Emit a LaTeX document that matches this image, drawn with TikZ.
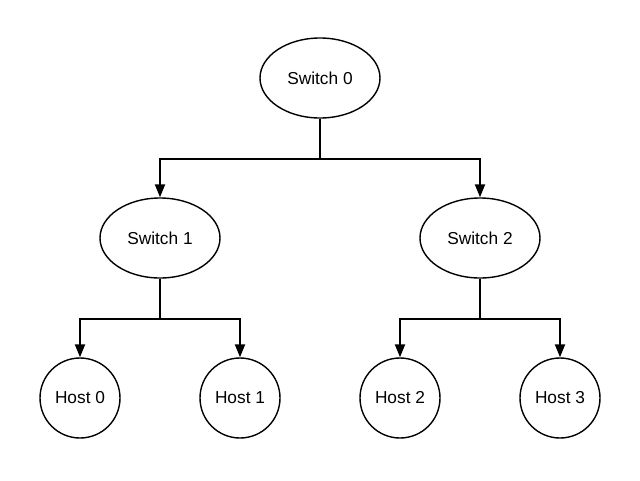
\documentclass[tikz,border=0pt]{standalone}
\usepackage{fontspec}
\setmainfont{Liberation Sans}
\usetikzlibrary{shapes.geometric,arrows.meta}
\begin{document}
\begin{tikzpicture}[x=1pt,y=-1pt,
  sw/.style={draw,ellipse,line width=1.4pt,minimum width=120pt,minimum height=80pt,inner sep=0pt,font=\fontsize{17.3}{20}\selectfont},
  hst/.style={draw,circle,line width=1.4pt,minimum size=80pt,inner sep=0pt,font=\fontsize{17.3}{20}\selectfont},
  conn/.style={line width=2pt,-{Triangle[width=10pt,length=13pt]}}]
\useasboundingbox (0,0) rectangle (640,480);
\node[sw] (s0) at (320,78) {Switch 0};
\node[sw] (s1) at (160,238) {Switch 1};
\node[sw] (s2) at (480,238) {Switch 2};
\node[hst] (h0) at (80,398) {Host 0};
\node[hst] (h1) at (240,398) {Host 1};
\node[hst] (h2) at (400,398) {Host 2};
\node[hst] (h3) at (560,398) {Host 3};
\draw[conn] (s0.south) -- ++(0,40) -| (s1.north);
\draw[conn] (s0.south) -- ++(0,40) -| (s2.north);
\draw[conn] (s1.south) -- ++(0,40) -| (h0.north);
\draw[conn] (s1.south) -- ++(0,40) -| (h1.north);
\draw[conn] (s2.south) -- ++(0,40) -| (h2.north);
\draw[conn] (s2.south) -- ++(0,40) -| (h3.north);
\end{tikzpicture}
\end{document}
